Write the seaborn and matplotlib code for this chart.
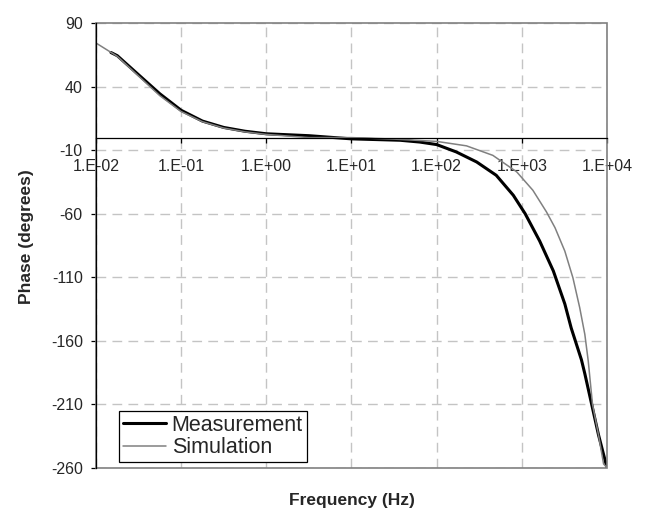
import matplotlib
matplotlib.use("Agg")
import matplotlib.pyplot as plt
import pandas as pd
import seaborn as sns
from matplotlib.patches import Rectangle

# ---- data ----
meas_freq = [0.015, 0.0178, 0.0316, 0.0562, 0.1, 0.178, 0.316, 0.562, 1, 3.16,
             10, 37.2, 63.1, 100, 170, 295, 501, 794, 1096, 1622, 2344, 3199,
             3802, 5012, 5495, 6607, 7943, 10000]
meas_phase = [67, 64.5, 49.5, 34.5, 21.5, 13, 8, 5, 3, 1.5,
              -1, -2.1, -3.5, -5.5, -11.3, -19.2, -29.7, -45.4, -60, -81.5, -105, -131,
              -150, -175, -186, -210, -234, -260]

sim_freq = [0.01, 0.0178, 0.0316, 0.0562, 0.1, 0.178, 0.316, 0.562, 1, 3.16,
            10, 31.6, 100, 224, 457, 871, 1349, 1950, 2455, 3199, 3981, 4786,
            5495, 6026, 6761, 7943, 9120, 10000]
sim_phase = [74.5, 64, 48.5, 33, 20.5, 12.5, 7.5, 4.5, 2.5, 0,
             0, -1.2, -3, -6.5, -14, -27, -41.5, -58.6, -71, -89.4, -110.4, -134,
             -155, -176, -210, -234, -257, -260]

series_names = ["Measurement", "Simulation"]
x_ticks = [0.01, 0.1, 1, 10, 100, 1000, 10000]
x_tick_labels = ["1.E-02", "1.E-01", "1.E+00", "1.E+01", "1.E+02", "1.E+03", "1.E+04"]
y_ticks = [90, 40, -10, -60, -110, -160, -210, -260]

df_meas = pd.DataFrame({"Frequency": meas_freq, "Phase": meas_phase, "Series": series_names[0]})
df_sim = pd.DataFrame({"Frequency": sim_freq, "Phase": sim_phase, "Series": series_names[1]})

sns.set_style("white")
plt.rcParams["font.family"] = ["Liberation Sans", "DejaVu Sans"]
plt.rcParams["axes.unicode_minus"] = False

fig = plt.figure(figsize=(6.48, 5.09), dpi=100)
ax = fig.add_axes([0.1481, 0.0811, 0.7886, 0.8731])

sns.lineplot(data=df_meas, x="Frequency", y="Phase", color="black", linewidth=2.2,
             estimator=None, sort=False, ax=ax, label=series_names[0], zorder=3)
sns.lineplot(data=df_sim, x="Frequency", y="Phase", color="#808080", linewidth=1.1,
             estimator=None, sort=False, ax=ax, label=series_names[1], zorder=4)

ax.set_xscale("log")
ax.set_xlim(0.01, 10000)
ax.set_ylim(-260, 90)
ax.set_xticks(x_ticks)
ax.set_xticklabels(x_tick_labels)
ax.xaxis.set_minor_locator(matplotlib.ticker.NullLocator())
ax.set_yticks(y_ticks)

ax.grid(True, color="#c4c4c4", linestyle=(0, (7, 4.5)), linewidth=1.0, zorder=0)
ax.set_axisbelow(True)

# spines: x-axis crosses at phase 0
for s in ["top", "right"]:
    ax.spines[s].set_visible(False)
ax.spines["bottom"].set_position(("data", 0))
ax.spines["bottom"].set_color("black")
ax.spines["bottom"].set_linewidth(0.9)
ax.spines["left"].set_color("black")
ax.spines["left"].set_linewidth(0.9)
ax.spines["bottom"].set_zorder(5)
ax.spines["left"].set_zorder(6)

frame = Rectangle((0, 0), 1, 1, transform=ax.transAxes, fill=False,
                  edgecolor="#808080", linewidth=1.2, zorder=5, clip_on=False)
ax.add_patch(frame)

ax.tick_params(axis="x", direction="out", length=3.5, width=0.9, color="black",
               pad=12, labelsize=11.5, bottom=True)
ax.tick_params(axis="y", direction="out", length=3.5, width=0.9, color="black",
               pad=6, labelsize=11.5, left=True)

label_font = dict(fontsize=12.5, fontweight="bold")
ax.set_xlabel("Frequency (Hz)", **label_font)
ax.set_ylabel("Phase (degrees)", **label_font)
ax.xaxis.set_label_coords(0.5, -0.056)
ax.yaxis.set_label_coords(-0.122, 0.52)

leg = ax.legend(loc="lower left", bbox_to_anchor=(0.045, 0.012), borderaxespad=0,
                fontsize=15.5, frameon=True, fancybox=False, edgecolor="black",
                framealpha=1, handlelength=2.0, handletextpad=0.25,
                borderpad=0.2, labelspacing=0.05)
leg.get_frame().set_linewidth(0.9)
leg.set_zorder(10)

fig.savefig("out.png", dpi=100)
